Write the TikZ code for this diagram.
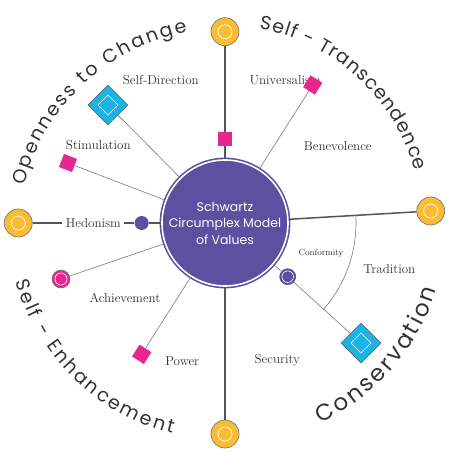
\documentclass[tikz,border=0pt]{standalone}
\usepackage{fontspec}
\usepackage{tikz}
\usetikzlibrary{positioning,shapes.geometric,decorations.text}
\newfontfamily\grpfont{Poppins}
\newcommand{\grplbl}{\grpfont\fontsize{19}{19}\selectfont}
\newcommand{\grpbig}{\grpfont\fontsize{23}{23}\selectfont}
\definecolor{valpurple}{HTML}{5C50A0}
\definecolor{valyellow}{HTML}{FBBC32}
\definecolor{valpink}{HTML}{E62790}
\definecolor{valblue}{HTML}{1DB2E4}
\definecolor{valgrey}{HTML}{7A7A7A}
\definecolor{valdark}{HTML}{555555}
\definecolor{valtext}{HTML}{333333}

\begin{document}
\begin{tikzpicture}[
        x=1pt, y=1pt,
        core/.style={
            circle,
            fill=valpurple,
            draw=valpurple,
            line width=1.6pt,
            double=white,
            double distance=1.6pt,
            minimum size=126pt,
            inner sep=0pt,
            text=white,
            align=center,
            font=\grpfont\fontsize{12.5}{16.5}\selectfont
        },
        pole/.style={
            circle,
            fill=valyellow,
            draw=valgrey,
            line width=0.7pt,
            minimum size=28pt,
            inner sep=0pt,
            path picture={\draw[white, line width=0.7pt] (path picture bounding box.center) circle (7pt);}
        },
        sqmark/.style={rectangle, fill=valpink, minimum size=14pt, inner sep=0pt},
        diamark/.style={
            diamond,
            aspect=1,
            fill=valblue,
            draw=valdark,
            line width=0.5pt,
            minimum width=40pt,
            minimum height=40pt,
            inner sep=0pt,
            path picture={\draw[white, line width=0.6pt] (path picture bounding box.center) ++(-10pt,0pt) -- ++(10pt,10pt) -- ++(10pt,-10pt) -- ++(-10pt,-10pt) -- cycle;}
        },
        dotmark/.style={
            circle,
            fill=valpink,
            draw=valgrey,
            line width=0.6pt,
            minimum size=18pt,
            inner sep=0pt,
            path picture={\draw[white, line width=0.6pt] (path picture bounding box.center) circle (6pt);}
        },
        confmark/.style={
            circle,
            fill=valpurple,
            draw=valpurple,
            line width=0.6pt,
            minimum size=16pt,
            inner sep=0pt,
            path picture={\draw[white, line width=0.6pt] (path picture bounding box.center) circle (5.8pt);}
        },
        hedmark/.style={circle, fill=valpurple, minimum size=14pt, inner sep=0pt},
        lbl/.style={text=valtext, font=\fontsize{13}{15}\selectfont},
        thickline/.style={draw=valdark, line width=1.5pt},
        thinline/.style={draw=valgrey, line width=0.6pt}
    ]
        \path[use as bounding box, fill=white] (-225,-248) rectangle (225,223);

        \node[core] (core) at (0,0) {Schwartz\\Circumplex Model\\of Values};

        \node[lbl] (lselfdir) at (-64.2,143) {Self-Direction};
        \node[lbl] (lstim) at (-126.7,78) {Stimulation};
        \node[lbl, anchor=west] (luniv) at (21,143) {Universalism};
        \node[lbl] (lbenev) at (112.7,77.3) {Benevolence};
        \node[lbl] (lhedon) at (-131.7,0) {Hedonism};
        \node[lbl] (lachiev) at (-100,-74.7) {Achievement};
        \node[lbl] (lpower) at (-42.7,-137.7) {Power};
        \node[lbl] (lsecur) at (52.3,-137.7) {Security};
        \node[lbl, font=\fontsize{8.8}{10}\selectfont] (lconform) at (96,-30) {Conformity};
        \node[lbl] (ltradit) at (164.3,-46.5) {Tradition};

        \node[pole] (poleN) at (0,191.3) {};
        \node[pole] (poleS) at (0,-211) {};
        \node[pole] (poleW) at (-206.7,0) {};
        \node[pole] (poleE) at (205.7,12) {};

        \node[sqmark] (topsq) at (0,84) {};
        \node[diamark] (selfdir) at (-117,118) {};
        \node[sqmark, rotate=-21] (stim) at (-157,60) {};
        \node[sqmark, rotate=57.6] (univ) at (87.7,138) {};
        \node[sqmark, rotate=57.6] (power) at (-83.3,-131.3) {};
        \node[dotmark] (achiev) at (-164,-56) {};
        \node[hedmark] (hedon) at (-83.3,0) {};
        \node[confmark] (conform) at (62.7,-53.7) {};
        \node[diamark] (tradit) at (136,-120) {};

        \draw[thickline] (core) -- (topsq);
        \draw[thickline] (topsq) -- (poleN);
        \draw[thickline] (core) -- (poleS);
        \draw[thickline] (core) -- (poleE);
        \draw[thickline] (core) -- (hedon);
        \draw[thickline] (hedon) -- (lhedon);
        \draw[thickline] (lhedon) -- (poleW);
        \draw[thinline] (core) -- (selfdir);
        \draw[thinline] (core) -- (stim);
        \draw[thinline] (core) -- (univ);
        \draw[thinline] (core) -- (power);
        \draw[thinline] (core) -- (achiev);
        \draw[thinline] (core) -- (conform);
        \draw[thinline] (conform) -- (tradit);
        \draw[thinline] (core.center) ++(3.3:131) arc (3.3:-41.4:131);

        \path[decorate, decoration={text along path, text={|\grplbl|Openness to Change}, text align={fit to path}, text color=valtext}]
            ([shift={(0,-13)}]166:207) arc (166:100.5:207);
        \path[decorate, decoration={text along path, text={|\grplbl|Self - Transcendence}, text align={fit to path}, text color=valtext}]
            (80:197) arc (80:15.3:197);
        \path[decorate, decoration={text along path, text={|\grplbl|Self - Enhancement}, text align={fit to path}, text color=valtext}]
            (195.5:217) arc (195.5:256:217);
        \path[decorate, decoration={text along path, text={|\grpbig|Conservation}, text align={fit to path}, text color=valtext}]
            (-64.5:222) arc (-64.5:-17.5:222);
    \end{tikzpicture}
\end{document}
